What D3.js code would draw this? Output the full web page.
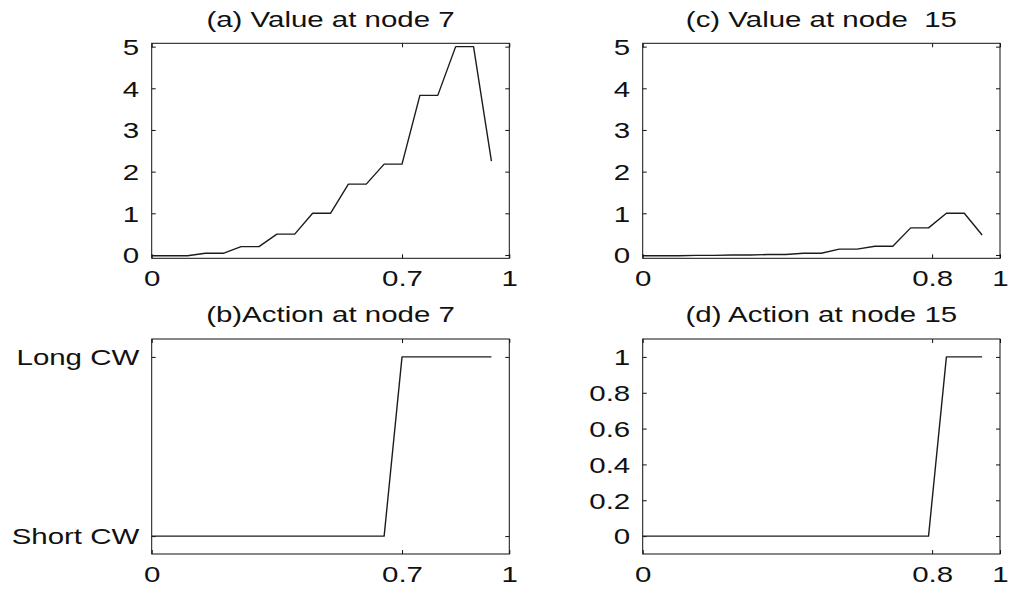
<!DOCTYPE html>
<html>
<head>
<meta charset="utf-8">
<script src="https://cdn.jsdelivr.net/npm/d3@7"></script>
<style>
  html, body { margin: 0; padding: 0; background: #fff; }
  svg { display: block; }
  text { font-family: "Liberation Sans", Arial, sans-serif; fill: #111; white-space: pre; }
</style>
</head>
<body>
<svg id="fig" width="1012" height="592"></svg>
<script>
// Channel-quality grid (x axis) shared by all four panels
const stateGrid = [0, 0.05, 0.1, 0.15, 0.2, 0.25, 0.3, 0.35, 0.4, 0.45,
                   0.5, 0.55, 0.6, 0.65, 0.7, 0.75, 0.8, 0.85, 0.9, 0.95];

// (a) value function at node 7
const valueNode7 = [-0.02, -0.02, -0.02, 0.04, 0.04, 0.2, 0.2, 0.5, 0.5, 1.0,
                    1.0, 1.7, 1.7, 2.18, 2.18, 3.83, 3.83, 5.0, 5.0, 2.25];
// (c) value function at node 15
const valueNode15 = [-0.02, -0.02, -0.02, -0.01, -0.01, 0.0, 0.0, 0.01, 0.01, 0.04,
                     0.04, 0.14, 0.14, 0.21, 0.21, 0.65, 0.65, 1.0, 1.0, 0.48];
// (b) action at node 7 (0 = short contention window, 1 = long)
const actionNode7 = [0, 0, 0, 0, 0, 0, 0, 0, 0, 0,
                     0, 0, 0, 0, 1, 1, 1, 1, 1, 1];
// (d) action at node 15
const actionNode15 = [0, 0, 0, 0, 0, 0, 0, 0, 0, 0,
                      0, 0, 0, 0, 0, 0, 0, 1, 1, 1];

// Tick positions and their labels
const xTicksNode7 = [0, 0.7, 1];
const xTickLabelsNode7 = ["0", "0.7", "1"];
const xTicksNode15 = [0, 0.81, 1];
const xTickLabelsNode15 = ["0", "0.8", "1"];
const valueTicks = [0, 1, 2, 3, 4, 5];
const valueTickLabels = ["0", "1", "2", "3", "4", "5"];
const actionTicksNode7 = [0, 1];
const actionTickLabelsNode7 = ["Short CW", "Long CW"];
const actionTicksNode15 = [0, 0.2, 0.4, 0.6, 0.8, 1];
const actionTickLabelsNode15 = ["0", "0.2", "0.4", "0.6", "0.8", "1"];

const titles = ["(a) Value at node 7", "(b)Action at node 7",
                "(c) Value at node  15", "(d) Action at node 15"];

// Layout
const FONT = 21.5;     // label font size
const SX = 1.37;       // horizontal text stretch
const TICK = 4;        // inward tick length

const panels = [
  { title: titles[0], values: valueNode7, box: [151.7, 509.3, 43.3, 258.3],
    yDomain: [-0.08, 5.08], xTicks: xTicksNode7, xLabels: xTickLabelsNode7,
    yTicks: valueTicks, yLabels: valueTickLabels },
  { title: titles[1], values: actionNode7, box: [151.7, 509.3, 339, 554],
    yDomain: [-0.1, 1.1], xTicks: xTicksNode7, xLabels: xTickLabelsNode7,
    yTicks: actionTicksNode7, yLabels: actionTickLabelsNode7 },
  { title: titles[2], values: valueNode15, box: [642.7, 1000, 43.3, 258.3],
    yDomain: [-0.08, 5.08], xTicks: xTicksNode15, xLabels: xTickLabelsNode15,
    yTicks: valueTicks, yLabels: valueTickLabels },
  { title: titles[3], values: actionNode15, box: [642.7, 1000, 339, 554],
    yDomain: [-0.1, 1.1], xTicks: xTicksNode15, xLabels: xTickLabelsNode15,
    yTicks: actionTicksNode15, yLabels: actionTickLabelsNode15 }
];

const svg = d3.select("#fig");
svg.append("rect").attr("width", 1012).attr("height", 592).attr("fill", "#fff");

panels.forEach(p => {
  const [x0, x1, y0, y1] = p.box;
  const x = d3.scaleLinear().domain([0, 1]).range([x0, x1]);
  const y = d3.scaleLinear().domain(p.yDomain).range([y1, y0]);
  const g = svg.append("g");

  // Inward ticks on all four sides
  const bottom = g.append("g").attr("transform", `translate(0,${y1})`)
    .call(d3.axisBottom(x).tickValues(p.xTicks).tickSize(-TICK)
      .tickFormat((d, i) => p.xLabels[i]));
  const top = g.append("g").attr("transform", `translate(0,${y0})`)
    .call(d3.axisTop(x).tickValues(p.xTicks).tickSize(-TICK).tickFormat(""));
  const left = g.append("g").attr("transform", `translate(${x0},0)`)
    .call(d3.axisLeft(y).tickValues(p.yTicks).tickSize(-TICK)
      .tickFormat((d, i) => p.yLabels[i]));
  const right = g.append("g").attr("transform", `translate(${x1},0)`)
    .call(d3.axisRight(y).tickValues(p.yTicks).tickSize(-TICK).tickFormat(""));

  [bottom, top, left, right].forEach(a => {
    a.select(".domain").remove();
    a.selectAll(".tick line").attr("stroke", "#111").attr("stroke-width", 1);
  });

  bottom.selectAll(".tick text")
    .attr("y", 28.2).attr("dy", 0)
    .attr("font-size", FONT).attr("fill", "#111")
    .attr("font-family", "Liberation Sans, Arial, sans-serif")
    .attr("transform", `scale(${SX},1)`);
  left.selectAll(".tick text")
    .attr("x", -12.5 / SX).attr("dy", "0.36em")
    .attr("font-size", FONT).attr("fill", "#111")
    .attr("font-family", "Liberation Sans, Arial, sans-serif")
    .attr("transform", `scale(${SX},1)`);

  // Axes box
  g.append("rect")
    .attr("x", x0).attr("y", y0)
    .attr("width", x1 - x0).attr("height", y1 - y0)
    .attr("fill", "none").attr("stroke", "#111").attr("stroke-width", 1);

  // Curve
  const line = d3.line().x((d, i) => x(stateGrid[i])).y(d => y(d));
  g.append("path")
    .datum(p.values)
    .attr("d", line)
    .attr("fill", "none")
    .attr("stroke", "#1c1c1c")
    .attr("stroke-width", 1.4)
    .attr("stroke-linejoin", "round");

  // Title
  g.append("text")
    .attr("transform", `translate(${(x0 + x1) / 2},${y0 - 16.6}) scale(${SX},1)`)
    .attr("text-anchor", "middle")
    .attr("font-size", FONT)
    .text(p.title);
});
</script>
</body>
</html>
